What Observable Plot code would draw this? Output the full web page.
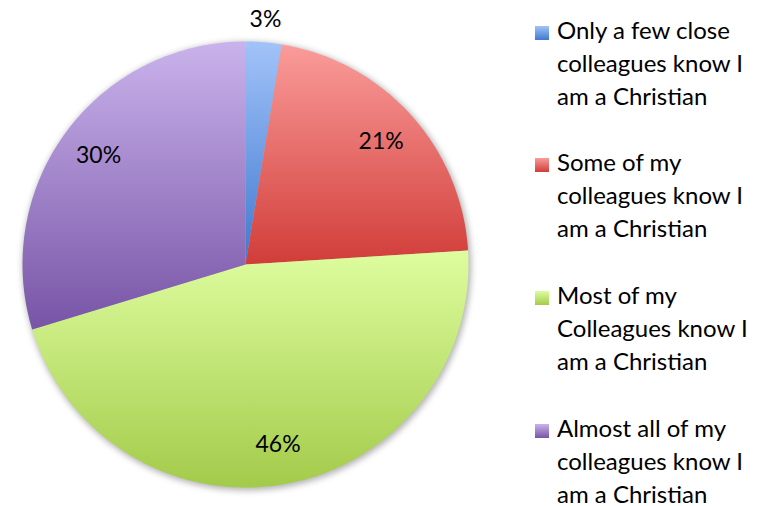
<!DOCTYPE html>
<html>
<head>
<meta charset="utf-8">
<script src="https://cdn.jsdelivr.net/npm/d3@7"></script>
<script src="https://cdn.jsdelivr.net/npm/@observablehq/plot@0.6"></script>
<style>
  html, body { margin: 0; padding: 0; background: #fff; }
  #wrap { display: flex; width: 767px; height: 506px; font-family: Lato, "Open Sans", sans-serif; }
  #chart { width: 520px; flex: none; }
  #legend { position: relative; width: 247px; height: 506px; flex: none; }
  .item { position: absolute; left: 0; }
  .key { position: absolute; left: 15px; width: 14px; height: 14px; }
  .txt { position: absolute; left: 37px; font-size: 24px; line-height: 33px; color: #000; white-space: nowrap; }
</style>
</head>
<body>
<div id="wrap"><div id="chart"></div><div id="legend"></div></div>
<script>
// ---- data ----
const categories = ["Only a few close colleagues know I am a Christian",
                    "Some of my colleagues know I am a Christian",
                    "Most of my Colleagues know I am a Christian",
                    "Almost all of my colleagues know I am a Christian"];
const legendLines = [["Only a few close", "colleagues know I", "am a Christian"],
                     ["Some of my", "colleagues know I", "am a Christian"],
                     ["Most of my", "Colleagues know I", "am a Christian"],
                     ["Almost all of my", "colleagues know I", "am a Christian"]];
const shares = [2.6, 21.4, 46.3, 29.7];
const topColors = ["#a2c3f9", "#fa9c9a", "#defd9f", "#cab3ec"];
const bottomColors = ["#3f78cf", "#d13d39", "#a3cb4a", "#7754a6"];

// ---- geometry ----
const W = 520, H = 506, CX = 245, CY = 264, R = 223;
const total = d3.sum(shares);
const pie = d3.pie().sort(null).value(d => d)(shares);
const slices = pie.map((p) => {
  const pts = [{x: 0, y: 0}];
  const n = Math.max(4, Math.ceil((p.endAngle - p.startAngle) / (Math.PI * 2) * 360));
  for (let k = 0; k <= n; k++) {
    const a = p.startAngle + (p.endAngle - p.startAngle) * k / n;
    pts.push({x: Math.sin(a), y: Math.cos(a)});
  }
  pts.push({x: 0, y: 0});
  return pts;
});
const circle = d3.range(0, 361).map(d => ({x: Math.sin(d * Math.PI / 180), y: Math.cos(d * Math.PI / 180)}));
const labelData = pie.map((p, i) => {
  const a = (p.startAngle + p.endAngle) / 2;
  const share = shares[i] / total;
  const r = share < 0.05 ? 1.1 : 0.82;
  return {x: Math.sin(a) * r, y: Math.cos(a) * r, text: Math.round(share * 100) + "%"};
});

const defs = () => {
  const svgNS = "http://www.w3.org/2000/svg";
  const d = document.createElementNS(svgNS, "defs");
  topColors.forEach((c, i) => {
    const g = document.createElementNS(svgNS, "linearGradient");
    g.setAttribute("id", "grad" + i);
    g.setAttribute("x1", "0"); g.setAttribute("y1", "0");
    g.setAttribute("x2", "0"); g.setAttribute("y2", "1");
    const s1 = document.createElementNS(svgNS, "stop");
    s1.setAttribute("offset", "0"); s1.setAttribute("stop-color", c);
    const s2 = document.createElementNS(svgNS, "stop");
    s2.setAttribute("offset", "1"); s2.setAttribute("stop-color", bottomColors[i]);
    g.appendChild(s1); g.appendChild(s2);
    d.appendChild(g);
  });
  return d;
};

const chart = Plot.plot({
  width: W, height: H,
  marginTop: 0, marginRight: 0, marginBottom: 0, marginLeft: 0,
  x: {domain: [-CX / R, (W - CX) / R], axis: null},
  y: {domain: [-(H - CY) / R, CY / R], axis: null},
  style: {fontFamily: "Lato, 'Open Sans', sans-serif", background: "#fff"},
  marks: [
    defs,
    Plot.line(circle, {x: d => d.x * 1.005 + 0.006, y: d => d.y * 1.005 - 0.008, fill: "#000", fillOpacity: 0.3, stroke: "none", curve: "linear-closed", imageFilter: "blur(3px)"}),
    ...slices.map((s, i) => Plot.line(s, {x: "x", y: "y", fill: `url(#grad${i})`, stroke: "none", curve: "linear-closed"})),
    Plot.text(labelData, {x: "x", y: "y", text: "text", fontSize: 23, fill: "#000", textAnchor: "middle", lineAnchor: "middle"})
  ]
});
document.getElementById("chart").appendChild(chart);

// ---- legend ----
const legend = document.getElementById("legend");
const rowTops = [13, 145, 278, 411];
legendLines.forEach((lines, i) => {
  const item = document.createElement("div");
  item.className = "item";
  item.style.top = rowTops[i] + "px";
  item.title = categories[i];
  const key = document.createElement("div");
  key.className = "key";
  key.style.top = "13px";
  key.style.background = `linear-gradient(${topColors[i]}, ${bottomColors[i]})`;
  const txt = document.createElement("div");
  txt.className = "txt";
  txt.style.top = "0px";
  txt.innerHTML = lines.join("<br>");
  item.appendChild(key); item.appendChild(txt);
  legend.appendChild(item);
});
</script>
</body>
</html>
